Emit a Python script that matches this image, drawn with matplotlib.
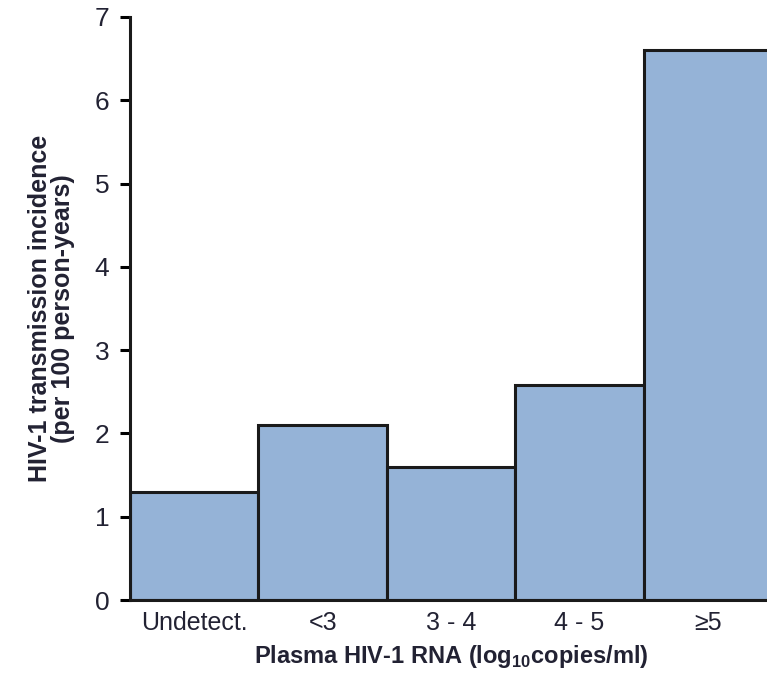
import matplotlib
matplotlib.use('Agg')
import matplotlib.pyplot as plt
from matplotlib import font_manager

# Data
categories = ['Undetect.', '<3', '3 - 4', '4 - 5', '\u22655']
incidence = [1.3, 2.1, 1.6, 2.58, 6.6]

names = {f.name for f in font_manager.fontManager.ttflist}
font = 'Liberation Sans Narrow' if 'Liberation Sans Narrow' in names else 'Liberation Sans'
plt.rcParams['font.family'] = [font, 'DejaVu Sans']
plt.rcParams['mathtext.fontset'] = 'custom'
plt.rcParams['mathtext.rm'] = font
plt.rcParams['mathtext.bf'] = font + ':bold'

text_color = '#222233'

fig = plt.figure(figsize=(7.67, 6.76), dpi=100)
ax = fig.add_axes([130 / 767, 1 - 600 / 676, 642 / 767, 583 / 676])

x = list(range(len(categories)))
ax.bar(x, incidence, width=1.0, color='#95b3d7', edgecolor='#1a1a1a', linewidth=2.2)

ax.set_xlim(-0.5, len(categories) - 0.5)
ax.set_ylim(0, 7)
ax.set_yticks(range(0, 8))
ax.set_xticks(x)
ax.set_xticklabels(categories, fontsize=18, color=text_color)
ax.tick_params(axis='y', length=7, width=2.2, labelsize=19, labelcolor=text_color, pad=8)
ax.tick_params(axis='x', length=0, pad=8)

for s in ['top', 'right']:
    ax.spines[s].set_visible(False)
for s in ['left', 'bottom']:
    ax.spines[s].set_linewidth(2.2)
    ax.spines[s].set_color('#1a1a1a')

ax.set_xlabel(r'Plasma HIV-1 RNA (log$_{\mathbf{10}}$copies/ml)', fontsize=17,
              fontweight='bold', color=text_color, labelpad=6)
ax.set_ylabel('HIV-1 transmission incidence\n(per 100 person-years)', fontsize=18,
              fontweight='bold', color=text_color, labelpad=14, linespacing=0.95)

fig.savefig('out.png', dpi=100)
